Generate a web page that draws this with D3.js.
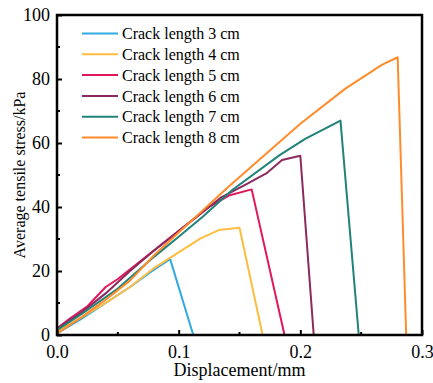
<!DOCTYPE html>
<html>
<head>
<meta charset="utf-8">
<script src="https://cdnjs.cloudflare.com/ajax/libs/d3/7.8.5/d3.min.js"></script>
<style>
  body { margin: 0; background: #fff; }
  text { font-family: "Liberation Serif", "Times New Roman", serif; }
</style>
</head>
<body>
<div class="container"></div>
<script>
// data
const seriesNames = ['Crack length 3 cm', 'Crack length 4 cm', 'Crack length 5 cm',
                     'Crack length 6 cm', 'Crack length 7 cm', 'Crack length 8 cm'];
const seriesColors = ['#2fa9e1', '#ffbd40', '#e2175b', '#8c2a5e', '#1f8379', '#ff8c2a'];

const crack3 = [[0, 0.5], [0.02, 5], [0.04, 10], [0.06, 15], [0.08, 20.5], [0.093, 23.7], [0.112, 0]];
const crack4 = [[0, 1], [0.02, 5.5], [0.04, 10], [0.06, 15], [0.08, 21], [0.1, 25.8], [0.118, 30.2],
                [0.133, 32.8], [0.15, 33.5], [0.169, 0]];
const crack5 = [[0, 2], [0.01, 5], [0.025, 9], [0.04, 15], [0.05, 17.5], [0.07, 23.5], [0.09, 29.5],
                [0.11, 35.5], [0.125, 40], [0.142, 43.7], [0.16, 45.5], [0.187, 0]];
const crack6 = [[0, 2], [0.02, 7], [0.04, 13], [0.06, 20], [0.08, 26.5], [0.1, 32.5], [0.12, 38.5],
                [0.135, 43], [0.155, 47], [0.172, 50.5], [0.185, 54.7], [0.2, 56], [0.211, 0]];
const crack7 = [[0, 1.5], [0.02, 6.5], [0.05, 14.5], [0.08, 24.5], [0.1, 30.7], [0.12, 37],
                [0.144, 45.3], [0.183, 56.2], [0.204, 61.3], [0.233, 67], [0.248, 0]];
const crack8 = [[0, 0.5], [0.02, 5.5], [0.04, 11], [0.06, 17], [0.08, 25], [0.1, 32], [0.12, 39],
                [0.14, 46], [0.17, 56], [0.2, 66], [0.237, 77], [0.267, 84.4], [0.28, 86.8], [0.287, 0]];
const allSeries = [crack3, crack4, crack5, crack6, crack7, crack8];

const xTicks = [0, 0.1, 0.2, 0.3];
const xMinor = [0.05, 0.15, 0.25];
const yTicks = [0, 20, 40, 60, 80, 100];
const yMinor = [10, 30, 50, 70, 90];

const width = 433;
const height = 383;
const margin = {left: 57, right: 11, top: 15, bottom: 48};

const xScale = d3.scaleLinear()
    .domain([0, 0.3])
    .range([margin.left, width - margin.right]);

const yScale = d3.scaleLinear()
    .domain([0, 100])
    .range([height - margin.bottom, margin.top]);

const svg = d3.select('.container')
    .append('svg')
    .attr('width', width)
    .attr('height', height);

// curves first, the frame is drawn over them
const line = d3.line()
    .x(d => xScale(d[0]))
    .y(d => yScale(d[1]));

svg.selectAll('path.curve')
    .data(allSeries)
    .enter()
    .append('path')
    .attr('class', 'curve')
    .attr('d', line)
    .attr('fill', 'none')
    .attr('stroke', (d, i) => seriesColors[i])
    .attr('stroke-width', 2)
    .attr('stroke-linejoin', 'round');

// axes, ticks inside
const xAxis = d3.axisBottom(xScale)
    .tickValues(xTicks)
    .tickFormat(d3.format('.1f'))
    .tickSizeInner(-5)
    .tickSizeOuter(0)
    .tickPadding(10);

const gx = svg.append('g')
    .attr('transform', `translate(0, ${height - margin.bottom})`)
    .call(xAxis);

const yAxis = d3.axisLeft(yScale)
    .tickValues(yTicks)
    .tickSizeInner(-5)
    .tickSizeOuter(0)
    .tickPadding(7);

const gy = svg.append('g')
    .attr('transform', `translate(${margin.left}, 0)`)
    .call(yAxis);

[gx, gy].forEach(g => {
  g.select('.domain').remove();
  g.selectAll('.tick line').attr('stroke', '#000').attr('stroke-width', 2);
  g.selectAll('.tick text')
      .attr('fill', '#000')
      .style('font-size', '18px')
      .style('font-family', '"Liberation Serif", serif');
});

// minor ticks
svg.selectAll('line.xminor')
    .data(xMinor)
    .enter()
    .append('line')
    .attr('x1', d => xScale(d))
    .attr('x2', d => xScale(d))
    .attr('y1', yScale(0))
    .attr('y2', yScale(0) - 3)
    .attr('stroke', '#000')
    .attr('stroke-width', 2);

svg.selectAll('line.yminor')
    .data(yMinor)
    .enter()
    .append('line')
    .attr('x1', margin.left)
    .attr('x2', margin.left + 3)
    .attr('y1', d => yScale(d))
    .attr('y2', d => yScale(d))
    .attr('stroke', '#000')
    .attr('stroke-width', 2);

// frame
svg.append('rect')
    .attr('x', margin.left)
    .attr('y', margin.top)
    .attr('width', width - margin.left - margin.right)
    .attr('height', height - margin.top - margin.bottom)
    .attr('fill', 'none')
    .attr('stroke', '#000')
    .attr('stroke-width', 2.5);

// axis titles
svg.append('text')
    .attr('x', (margin.left + width - margin.right) / 2)
    .attr('y', 376)
    .attr('text-anchor', 'middle')
    .style('font-size', '18px')
    .text('Displacement/mm');

svg.append('text')
    .attr('transform', `translate(25, ${(margin.top + height - margin.bottom) / 2}) rotate(-90)`)
    .attr('text-anchor', 'middle')
    .style('font-size', '16px')
    .text('Average tensile stress/kPa');

// legend
const legend = svg.selectAll('g.legend')
    .data(seriesNames)
    .enter()
    .append('g')
    .attr('class', 'legend')
    .attr('transform', (d, i) => `translate(82, ${33.5 + i * 20.8})`);

legend.append('line')
    .attr('x1', 0)
    .attr('x2', 36)
    .attr('stroke', (d, i) => seriesColors[i])
    .attr('stroke-width', 2);

legend.append('text')
    .attr('x', 40)
    .attr('dy', '0.35em')
    .style('font-size', '16px')
    .text(d => d);
</script>
</body>
</html>
